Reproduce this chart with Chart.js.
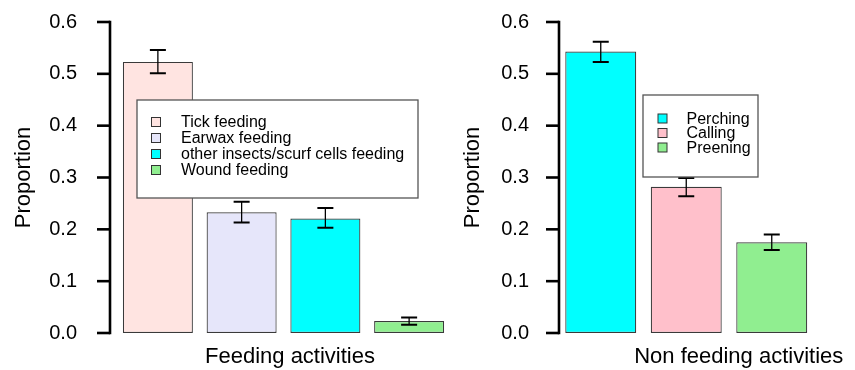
<!DOCTYPE html>
<html>
<head>
<meta charset="utf-8">
<script src="https://cdn.jsdelivr.net/npm/chart.js@4/dist/chart.umd.min.js"></script>
<style>
  html, body { margin: 0; padding: 0; background: #fff; }
  #wrap { position: relative; width: 855px; height: 370px; overflow: hidden; }
  .pane { position: absolute; top: 0; height: 370px; }
  #p1 { left: 0; width: 455px; }
  #p2 { left: 455px; width: 400px; }
</style>
</head>
<body>
<div id="wrap">
  <div class="pane" id="p1"><canvas id="c1" width="455" height="370"></canvas></div>
  <div class="pane" id="p2"><canvas id="c2" width="400" height="370"></canvas></div>
</div>
<script>
// ---------- data ----------
const feedCategories = ['Tick feeding', 'Earwax feeding', 'other insects/scurf cells feeding', 'Wound feeding'];
const feedValues = [0.523, 0.233, 0.221, 0.023];
const feedLower  = [0.501, 0.213, 0.203, 0.016];
const feedUpper  = [0.546, 0.253, 0.241, 0.030];
const feedColors = ['#FFE4E1', '#E6E6FA', '#00FFFF', '#90EE90'];

const nonFeedCategories = ['Perching', 'Calling', 'Preening'];
const nonFeedValues = [0.543, 0.282, 0.175];
const nonFeedLower  = [0.523, 0.264, 0.160];
const nonFeedUpper  = [0.562, 0.299, 0.190];
const nonFeedColors = ['#00FFFF', '#FFC0CB', '#90EE90'];

const yTickValues = [0.0, 0.1, 0.2, 0.3, 0.4, 0.5, 0.6];
const yTitle = 'Proportion';
const xTitleFeed = 'Feeding activities';
const xTitleNonFeed = 'Non feeding activities';

const FONT = '"Liberation Sans", Arial, Helvetica, sans-serif';

// ---------- plugins ----------
const axisPlugin = {
  id: 'rAxis',
  afterDraw(chart, args, opts) {
    const ctx = chart.ctx, y = chart.scales.y, area = chart.chartArea;
    const ax = area.left - opts.offset;
    ctx.save();
    ctx.strokeStyle = '#000';
    ctx.lineWidth = 2.6;
    ctx.lineCap = 'butt';
    ctx.beginPath();
    ctx.moveTo(ax, y.getPixelForValue(yTickValues[0]) + 1.3);
    ctx.lineTo(ax, y.getPixelForValue(yTickValues[yTickValues.length - 1]) - 1.3);
    ctx.stroke();
    y.ticks.forEach(t => {
      const py = y.getPixelForValue(t.value);
      ctx.beginPath();
      ctx.moveTo(ax - opts.tickLen, py);
      ctx.lineTo(ax, py);
      ctx.stroke();
    });
    ctx.restore();
  }
};

const errorBarPlugin = {
  id: 'errBars',
  afterDatasetsDraw(chart, args, opts) {
    const ctx = chart.ctx, y = chart.scales.y;
    const meta = chart.getDatasetMeta(0);
    ctx.save();
    ctx.strokeStyle = '#000';
    meta.data.forEach((bar, i) => {
      const yl = y.getPixelForValue(opts.lower[i]);
      const yu = y.getPixelForValue(opts.upper[i]);
      ctx.lineWidth = 1.3;
      ctx.beginPath();
      ctx.moveTo(bar.x, yl); ctx.lineTo(bar.x, yu);
      ctx.stroke();
      ctx.lineWidth = 2;
      ctx.beginPath();
      ctx.moveTo(bar.x - opts.cap, yl); ctx.lineTo(bar.x + opts.cap, yl);
      ctx.moveTo(bar.x - opts.cap, yu); ctx.lineTo(bar.x + opts.cap, yu);
      ctx.stroke();
    });
    ctx.restore();
  }
};

const boxLegendPlugin = {
  id: 'boxLegend',
  afterDraw(chart, args, opts) {
    const ctx = chart.ctx;
    const labels = chart.data.labels;
    const colors = chart.data.datasets[0].backgroundColor;
    ctx.save();
    ctx.fillStyle = '#fff';
    ctx.fillRect(opts.x, opts.y, opts.w, opts.h);
    ctx.strokeStyle = '#555';
    ctx.lineWidth = 1.3;
    ctx.strokeRect(opts.x, opts.y, opts.w, opts.h);
    ctx.font = opts.fontSize + 'px ' + FONT;
    ctx.textBaseline = 'middle';
    ctx.textAlign = 'left';
    labels.forEach((lab, i) => {
      const cy = opts.rowStart + i * opts.rowGap;
      ctx.fillStyle = colors[i];
      ctx.fillRect(opts.sqX - opts.sq / 2, cy - opts.sq / 2, opts.sq, opts.sq);
      ctx.strokeStyle = '#333';
      ctx.lineWidth = 1;
      ctx.strokeRect(opts.sqX - opts.sq / 2, cy - opts.sq / 2, opts.sq, opts.sq);
      ctx.fillStyle = '#000';
      ctx.fillText(lab, opts.textX, cy + 1);
    });
    ctx.restore();
  }
};

const xTitlePlugin = {
  id: 'xTitle',
  afterDraw(chart, args, opts) {
    const ctx = chart.ctx, area = chart.chartArea;
    ctx.save();
    ctx.font = opts.fontSize + 'px ' + FONT;
    ctx.fillStyle = '#000';
    ctx.textAlign = 'center';
    ctx.textBaseline = 'middle';
    ctx.fillText(opts.text, (area.left + area.right) / 2 + opts.dx, opts.y);
    ctx.restore();
  }
};

function makeChart(canvasId, cfg) {
  return new Chart(document.getElementById(canvasId), {
    type: 'bar',
    data: {
      labels: cfg.labels,
      datasets: [{
        data: cfg.values,
        backgroundColor: cfg.colors,
        borderColor: '#3a3a3a',
        borderWidth: 1.2,
        borderSkipped: false,
        barPercentage: cfg.barPct,
        categoryPercentage: 1.0
      }]
    },
    options: {
      responsive: false,
      animation: false,
      devicePixelRatio: 1,
      layout: { padding: { left: 0, top: 22, right: cfg.padRight, bottom: 0 } },
      plugins: {
        legend: { display: false },
        tooltip: { enabled: false },
        rAxis: { offset: cfg.axisOffset, tickLen: 13 },
        errBars: { lower: cfg.lower, upper: cfg.upper, cap: 8 },
        boxLegend: cfg.legend,
        xTitle: { text: cfg.xTitle, dx: cfg.xTitleDx, y: 357, fontSize: 22 }
      },
      scales: {
        x: {
          grid: { display: false },
          border: { display: false },
          ticks: { display: false },
          afterFit(s) {
            s.height = 37;
            s.paddingLeft = 0; s.paddingRight = 0; s.paddingTop = 0; s.paddingBottom = 0;
          }
        },
        y: {
          min: 0, max: 0.6,
          grid: { display: false },
          border: { display: false },
          afterBuildTicks(s) { s.ticks = yTickValues.map(v => ({ value: v })); },
          afterFit(s) {
            s.width = cfg.yWidth;
            s.paddingTop = 0; s.paddingBottom = 0; s.paddingLeft = 0; s.paddingRight = 0;
          },
          ticks: {
            padding: cfg.tickPad,
            color: '#000',
            font: { family: FONT, size: 20 },
            callback: v => Number(v).toFixed(1)
          },
          title: {
            display: true,
            text: yTitle,
            color: '#000',
            font: { family: FONT, size: 22 },
            padding: { top: cfg.yTitlePad, bottom: 0 }
          }
        }
      }
    },
    plugins: [axisPlugin, errorBarPlugin, boxLegendPlugin, xTitlePlugin]
  });
}

makeChart('c1', {
  labels: feedCategories, values: feedValues, colors: feedColors,
  lower: feedLower, upper: feedUpper,
  barPct: 0.836, padRight: 4, yWidth: 116, tickPad: 31, yTitlePad: 11,
  axisOffset: 6, xTitle: xTitleFeed, xTitleDx: 6.5,
  legend: { x: 137, y: 100, w: 281, h: 98, rowStart: 122, rowGap: 16,
            sqX: 156, sq: 9, textX: 181, fontSize: 16 }
});

makeChart('c2', {
  labels: nonFeedCategories, values: nonFeedValues, colors: nonFeedColors,
  lower: nonFeedLower, upper: nonFeedUpper,
  barPct: 0.830, padRight: 40.5, yWidth: 103, tickPad: 21, yTitlePad: 5,
  axisOffset: -1, xTitle: xTitleNonFeed, xTitleDx: 52.5,
  legend: { x: 188, y: 95, w: 115, h: 82, rowStart: 118.5, rowGap: 14.5,
            sqX: 207.5, sq: 9, textX: 231.5, fontSize: 16 }
});
</script>
</body>
</html>
